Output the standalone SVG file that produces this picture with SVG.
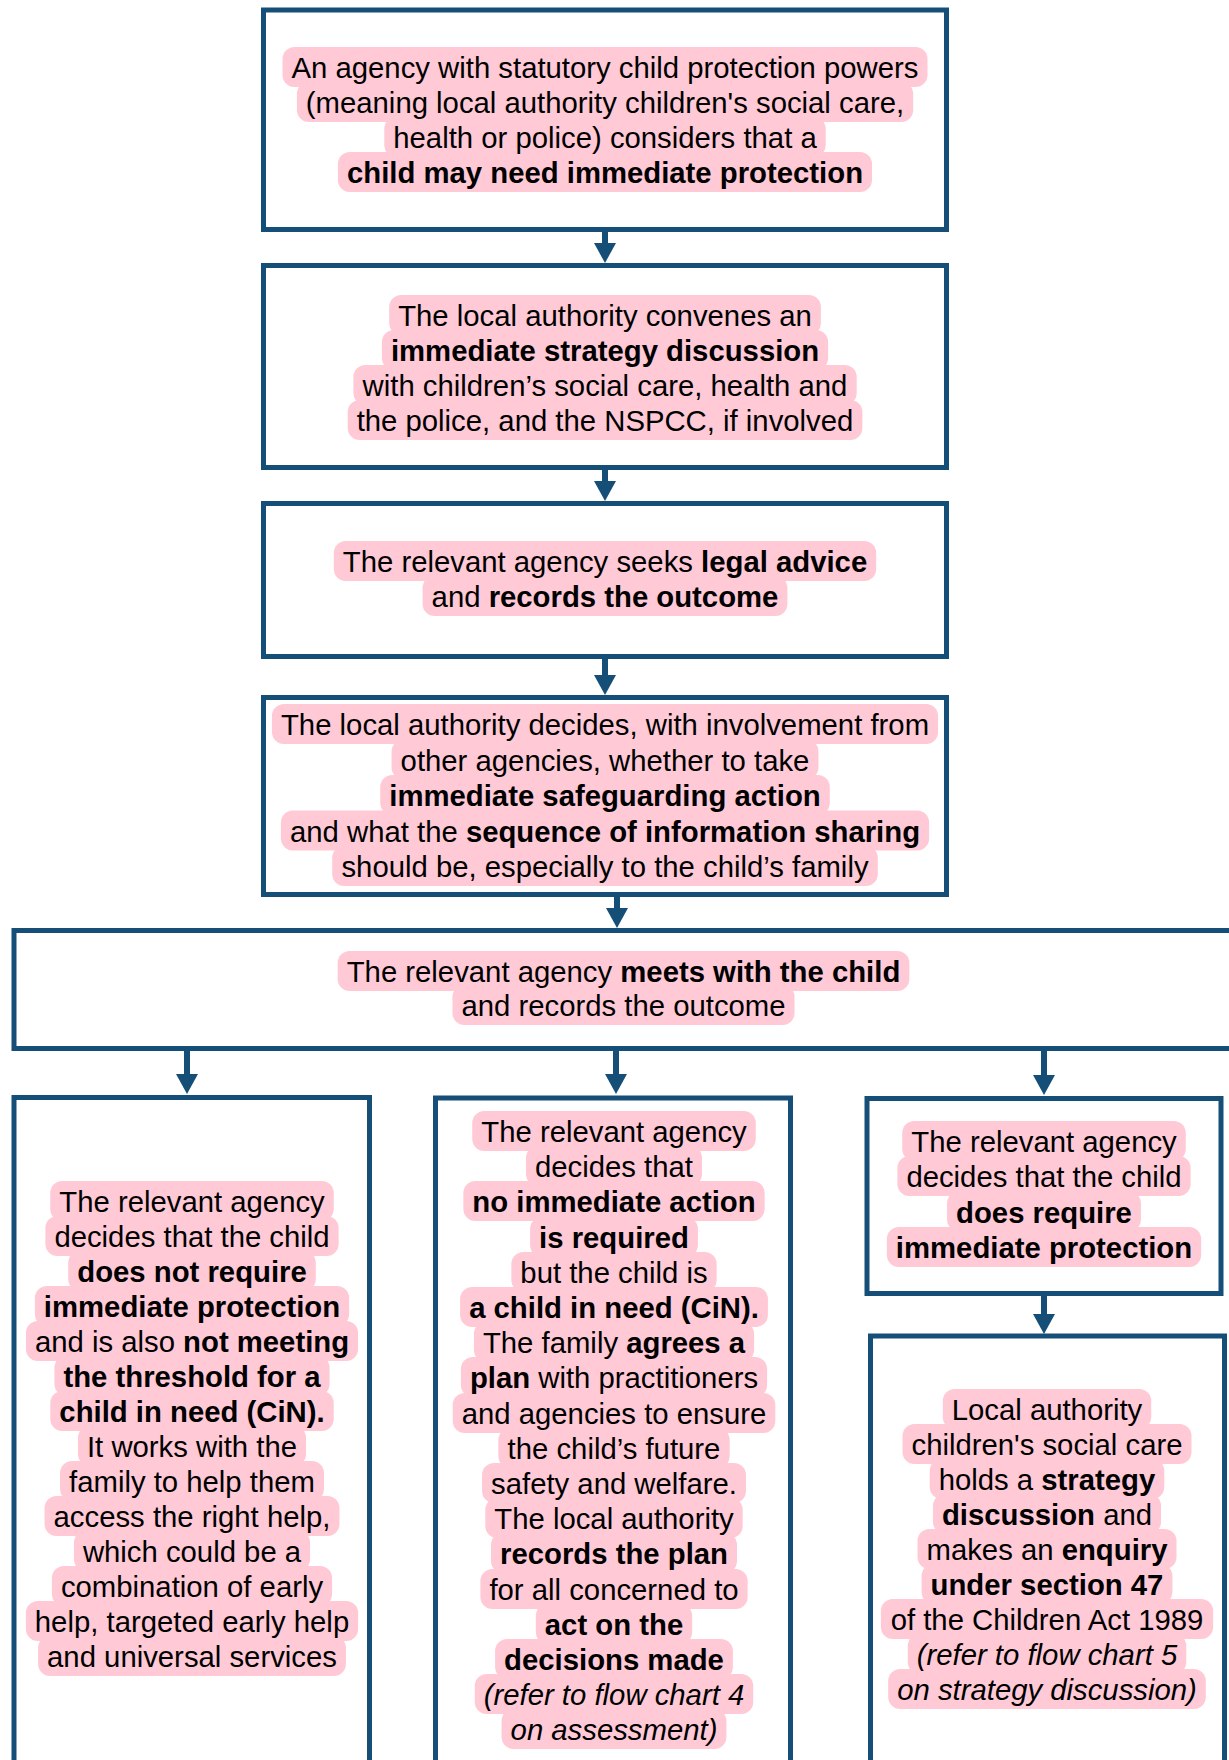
<svg xmlns="http://www.w3.org/2000/svg" width="1229" height="1760" viewBox="0 0 1229 1760">
<style>
.box{fill:#fff;stroke:#154F78;stroke-width:5}
.hl{fill:#FFC9D6}
.t{font-family:"Liberation Sans",Arial,sans-serif;font-size:29.3px;text-anchor:middle;fill:#000}
.b{font-weight:bold}
.i{font-style:italic}
.c{stroke:#154F78;stroke-width:6;fill:none}
</style>
<defs>
<marker id="ah" markerUnits="userSpaceOnUse" viewBox="0 0 20 22" refX="0" refY="11" markerWidth="20" markerHeight="22" orient="auto">
<path d="M0,0 L20,11 L0,22 Z" fill="#154F78"/>
</marker>
</defs>
<rect width="1229" height="1760" fill="#fff"/>

<g id="node-1">
<rect class="box" x="263.5" y="10" width="683" height="219.5"/>
<rect class="hl" x="282.5" y="47" width="645" height="40" rx="12"/>
<rect class="hl" x="296.9" y="82" width="616.3" height="40" rx="12"/>
<rect class="hl" x="384.3" y="117" width="441.4" height="40" rx="12"/>
<rect class="hl" x="337.9" y="152" width="534.1" height="40" rx="12"/>
<text class="t" x="605" y="78">An agency with statutory child protection powers</text>
<text class="t" x="605" y="113">(meaning local authority children's social care,</text>
<text class="t" x="605" y="148">health or police) considers that a</text>
<text class="t b" x="605" y="183">child may need immediate protection</text>
</g>

<g id="node-2">
<rect class="box" x="263.5" y="265.5" width="683" height="202"/>
<rect class="hl" x="389.2" y="295" width="431.7" height="40" rx="12"/>
<rect class="hl" x="381.9" y="330" width="446.2" height="40" rx="12"/>
<rect class="hl" x="353.4" y="365" width="503.3" height="40" rx="12"/>
<rect class="hl" x="347.7" y="400" width="514.7" height="40" rx="12"/>
<text class="t" x="605" y="326">The local authority convenes an</text>
<text class="t b" x="605" y="361">immediate strategy discussion</text>
<text class="t" x="605" y="396">with children’s social care, health and</text>
<text class="t" x="605" y="431">the police, and the NSPCC, if involved</text>
</g>

<g id="node-3">
<rect class="box" x="263.5" y="503.5" width="683" height="153"/>
<rect class="hl" x="333.8" y="541" width="542.4" height="40" rx="12"/>
<rect class="hl" x="422.6" y="576" width="364.8" height="40" rx="12"/>
<text class="t" x="605" y="572">The relevant agency seeks <tspan class="b">legal advice</tspan></text>
<text class="t" x="605" y="607">and <tspan class="b">records the outcome</tspan></text>
</g>

<g id="node-4">
<rect class="box" x="263.5" y="697.5" width="683" height="197"/>
<rect class="hl" x="271.95" y="704" width="666.1" height="40" rx="12"/>
<rect class="hl" x="391.6" y="739.5" width="426.8" height="40" rx="12"/>
<rect class="hl" x="380.25" y="775" width="449.5" height="40" rx="12"/>
<rect class="hl" x="280.9" y="810.5" width="648.2" height="40" rx="12"/>
<rect class="hl" x="332.2" y="846" width="545.6" height="40" rx="12"/>
<text class="t" x="605" y="735">The local authority decides, with involvement from</text>
<text class="t" x="605" y="770.5">other agencies, whether to take</text>
<text class="t b" x="605" y="806">immediate safeguarding action</text>
<text class="t" x="605" y="841.5">and what the <tspan class="b">sequence of information sharing</tspan></text>
<text class="t" x="605" y="877">should be, especially to the child’s family</text>
</g>

<g id="node-5">
<rect class="box" x="14" y="930.5" width="1218" height="118"/>
<rect class="hl" x="337.65" y="951" width="571.7" height="40" rx="12"/>
<rect class="hl" x="452.45" y="985" width="342.1" height="40" rx="12"/>
<text class="t" x="623.5" y="982">The relevant agency <tspan class="b">meets with the child</tspan></text>
<text class="t" x="623.5" y="1016">and records the outcome</text>
</g>

<g id="node-6">
<rect class="box" x="14" y="1097.5" width="355.5" height="720"/>
<rect class="hl" x="50.25" y="1181" width="283.5" height="40" rx="12"/>
<rect class="hl" x="45.4" y="1216" width="293.2" height="40" rx="12"/>
<rect class="hl" x="68.2" y="1251" width="247.6" height="40" rx="12"/>
<rect class="hl" x="34.85" y="1286" width="314.3" height="40" rx="12"/>
<rect class="hl" x="25.9" y="1321" width="332.2" height="40" rx="12"/>
<rect class="hl" x="54.4" y="1356" width="275.2" height="40" rx="12"/>
<rect class="hl" x="50.3" y="1391" width="283.4" height="40" rx="12"/>
<rect class="hl" x="77.95" y="1426" width="228.1" height="40" rx="12"/>
<rect class="hl" x="60.05" y="1461" width="263.9" height="40" rx="12"/>
<rect class="hl" x="44.55" y="1496" width="294.9" height="40" rx="12"/>
<rect class="hl" x="73.9" y="1531" width="236.2" height="40" rx="12"/>
<rect class="hl" x="51.9" y="1566" width="280.2" height="40" rx="12"/>
<rect class="hl" x="25.85" y="1601" width="332.3" height="40" rx="12"/>
<rect class="hl" x="38.1" y="1636" width="307.8" height="40" rx="12"/>
<text class="t" x="192" y="1212">The relevant agency</text>
<text class="t" x="192" y="1247">decides that the child</text>
<text class="t b" x="192" y="1282">does not require</text>
<text class="t b" x="192" y="1317">immediate protection</text>
<text class="t" x="192" y="1352">and is also <tspan class="b">not meeting</tspan></text>
<text class="t b" x="192" y="1387">the threshold for a</text>
<text class="t b" x="192" y="1422">child in need (CiN).</text>
<text class="t" x="192" y="1457">It works with the</text>
<text class="t" x="192" y="1492">family to help them</text>
<text class="t" x="192" y="1527">access the right help,</text>
<text class="t" x="192" y="1562">which could be a</text>
<text class="t" x="192" y="1597">combination of early</text>
<text class="t" x="192" y="1632">help, targeted early help</text>
<text class="t" x="192" y="1667">and universal services</text>
</g>

<g id="node-7">
<rect class="box" x="435.5" y="1098" width="355" height="720"/>
<rect class="hl" x="472.25" y="1111" width="283.5" height="40" rx="12"/>
<rect class="hl" x="526" y="1146" width="176" height="40" rx="12"/>
<rect class="hl" x="463.35" y="1181" width="301.3" height="40" rx="12"/>
<rect class="hl" x="530.1" y="1217" width="167.8" height="40" rx="12"/>
<rect class="hl" x="511.35" y="1252" width="205.3" height="40" rx="12"/>
<rect class="hl" x="460.1" y="1287" width="307.8" height="40" rx="12"/>
<rect class="hl" x="473.9" y="1322" width="280.2" height="40" rx="12"/>
<rect class="hl" x="460.9" y="1357" width="306.2" height="40" rx="12"/>
<rect class="hl" x="452.7" y="1393" width="322.6" height="40" rx="12"/>
<rect class="hl" x="498.35" y="1428" width="231.3" height="40" rx="12"/>
<rect class="hl" x="482.05" y="1463" width="263.9" height="40" rx="12"/>
<rect class="hl" x="485.3" y="1498" width="257.4" height="40" rx="12"/>
<rect class="hl" x="491" y="1533" width="246" height="40" rx="12"/>
<rect class="hl" x="480.4" y="1569" width="267.2" height="40" rx="12"/>
<rect class="hl" x="535.8" y="1604" width="156.4" height="40" rx="12"/>
<rect class="hl" x="495.1" y="1639" width="237.8" height="40" rx="12"/>
<rect class="hl" x="474.75" y="1674" width="278.5" height="40" rx="12"/>
<rect class="hl" x="501.6" y="1709" width="224.8" height="40" rx="12"/>
<text class="t" x="614" y="1142">The relevant agency</text>
<text class="t" x="614" y="1177">decides that</text>
<text class="t b" x="614" y="1212">no immediate action</text>
<text class="t b" x="614" y="1248">is required</text>
<text class="t" x="614" y="1283">but the child is</text>
<text class="t b" x="614" y="1318">a child in need (CiN).</text>
<text class="t" x="614" y="1353">The family <tspan class="b">agrees a</tspan></text>
<text class="t" x="614" y="1388"><tspan class="b">plan</tspan> with practitioners</text>
<text class="t" x="614" y="1424">and agencies to ensure</text>
<text class="t" x="614" y="1459">the child’s future</text>
<text class="t" x="614" y="1494">safety and welfare.</text>
<text class="t" x="614" y="1529">The local authority</text>
<text class="t b" x="614" y="1564">records the plan</text>
<text class="t" x="614" y="1600">for all concerned to</text>
<text class="t b" x="614" y="1635">act on the</text>
<text class="t b" x="614" y="1670">decisions made</text>
<text class="t i" x="614" y="1705">(refer to flow chart 4</text>
<text class="t i" x="614" y="1740">on assessment)</text>
</g>

<g id="node-8">
<rect class="box" x="867" y="1098.5" width="354" height="195"/>
<rect class="hl" x="902.25" y="1121" width="283.5" height="40" rx="12"/>
<rect class="hl" x="897.4" y="1156" width="293.2" height="40" rx="12"/>
<rect class="hl" x="947.05" y="1191.5" width="193.9" height="40" rx="12"/>
<rect class="hl" x="886.85" y="1227" width="314.3" height="40" rx="12"/>
<text class="t" x="1044" y="1152">The relevant agency</text>
<text class="t" x="1044" y="1187">decides that the child</text>
<text class="t b" x="1044" y="1222.5">does require</text>
<text class="t b" x="1044" y="1258">immediate protection</text>
</g>

<g id="node-9">
<rect class="box" x="870.5" y="1336" width="354" height="480"/>
<rect class="hl" x="942.75" y="1389" width="208.5" height="40" rx="12"/>
<rect class="hl" x="902.5" y="1424" width="289" height="40" rx="12"/>
<rect class="hl" x="929.7" y="1459" width="234.6" height="40" rx="12"/>
<rect class="hl" x="932.95" y="1494" width="228.1" height="40" rx="12"/>
<rect class="hl" x="917.5" y="1529" width="259" height="40" rx="12"/>
<rect class="hl" x="921.6" y="1564" width="250.8" height="40" rx="12"/>
<rect class="hl" x="880.85" y="1599" width="332.3" height="40" rx="12"/>
<rect class="hl" x="907.75" y="1634" width="278.5" height="40" rx="12"/>
<rect class="hl" x="888.2" y="1669" width="317.6" height="40" rx="12"/>
<text class="t" x="1047" y="1420">Local authority</text>
<text class="t" x="1047" y="1455">children's social care</text>
<text class="t" x="1047" y="1490">holds a <tspan class="b">strategy</tspan></text>
<text class="t" x="1047" y="1525"><tspan class="b">discussion</tspan> and</text>
<text class="t" x="1047" y="1560">makes an <tspan class="b">enquiry</tspan></text>
<text class="t b" x="1047" y="1595">under section 47</text>
<text class="t" x="1047" y="1630">of the Children Act 1989</text>
<text class="t i" x="1047" y="1665">(refer to flow chart 5</text>
<text class="t i" x="1047" y="1700">on strategy discussion)</text>
</g>

<g id="connectors">
<line class="c" x1="605" y1="232" x2="605" y2="243" marker-end="url(#ah)"/>
<line class="c" x1="605" y1="470" x2="605" y2="481" marker-end="url(#ah)"/>
<line class="c" x1="605" y1="659" x2="605" y2="675" marker-end="url(#ah)"/>
<line class="c" x1="617" y1="897" x2="617" y2="908" marker-end="url(#ah)"/>
<line class="c" x1="187" y1="1051" x2="187" y2="1074" marker-end="url(#ah)"/>
<line class="c" x1="616" y1="1051" x2="616" y2="1074" marker-end="url(#ah)"/>
<line class="c" x1="1044" y1="1051" x2="1044" y2="1075" marker-end="url(#ah)"/>
<line class="c" x1="1044" y1="1296" x2="1044" y2="1314" marker-end="url(#ah)"/>
</g>
</svg>
